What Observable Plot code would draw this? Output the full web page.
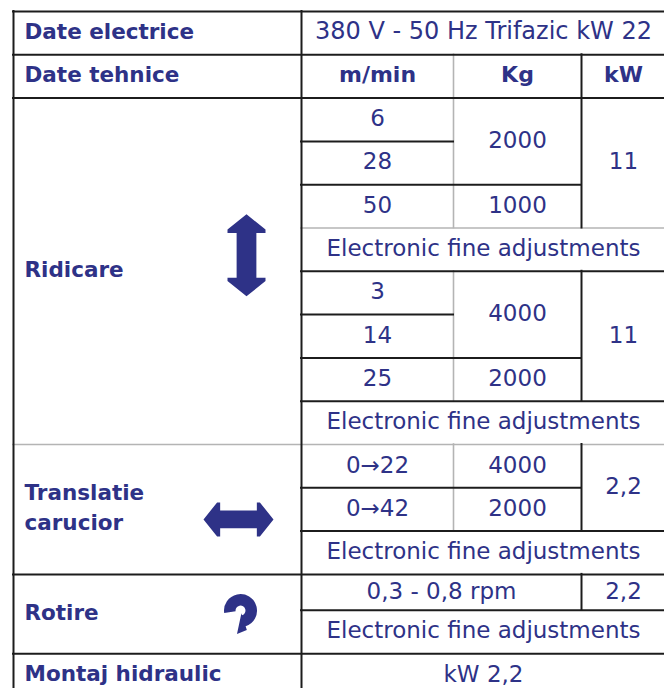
<!DOCTYPE html>
<html>
<head>
<meta charset="utf-8">
<script src="https://cdn.jsdelivr.net/npm/d3@7"></script>
<script src="https://cdn.jsdelivr.net/npm/@observablehq/plot@0.6"></script>
<style>
  html, body { margin: 0; padding: 0; background: #fff; }
  #chart svg { display: block; }
</style>
</head>
<body>
<div id="chart"></div>
<script>
// ---------- DATA ----------
const sectionLabels = ["Date electrice", "Date tehnice", "Ridicare", "Translatie\ncarucior", "Rotire", "Montaj hidraulic"];
const electricData = "380 V - 50 Hz Trifazic kW 22";
const columnHeaders = ["m/min", "Kg", "kW"];
const liftSpeeds = ["6", "28", "50", "3", "14", "25"];
const liftLoads = ["2000", "1000", "4000", "2000"];
const liftPowers = ["11", "11"];
const travelSpeeds = ["0→22", "0→42"];
const travelLoads = ["4000", "2000"];
const travelPower = "2,2";
const rotationSpeed = "0,3 - 0,8 rpm";
const rotationPower = "2,2";
const adjustmentNote = "Electronic fine adjustments";
const hydraulicPower = "kW 2,2";

// ---------- LAYOUT ----------
const ink = "#2e3287";
const colWidths = [288, 152, 128, 84];
const rowUnits = [1, 1, 1, 1, 1, 1, 1, 1, 1, 1, 1, 1, 1, 0.83, 1, 1];
const rowPx = 43.3;
const colEdges = [0, ...d3.cumsum(colWidths)];
const rowEdges = [0, ...d3.cumsum(rowUnits)];
const cell = (text, r1, r2, c1, c2) => ({text, r1, r2, c1, c2});

// left column labels
const leftCells = [
  cell(sectionLabels[0], 0, 1, 0, 1),
  cell(sectionLabels[1], 1, 2, 0, 1),
  cell(sectionLabels[2], 2, 10, 0, 1),
  cell(sectionLabels[3], 10, 13, 0, 1),
  cell(sectionLabels[4], 13, 15, 0, 1),
  cell(sectionLabels[5], 15, 16, 0, 1)
];
const headerCells = columnHeaders.map((h, i) => cell(h, 1, 2, 1 + i, 2 + i));
const speedRows = [2, 3, 4, 6, 7, 8];
const titleCells = [cell(electricData, 0, 1, 1, 4)];
const valueCells = [
  ...liftSpeeds.map((s, i) => cell(s, speedRows[i], speedRows[i] + 1, 1, 2)),
  cell(liftLoads[0], 2, 4, 2, 3),
  cell(liftLoads[1], 4, 5, 2, 3),
  cell(liftLoads[2], 6, 8, 2, 3),
  cell(liftLoads[3], 8, 9, 2, 3),
  cell(liftPowers[0], 2, 5, 3, 4),
  cell(liftPowers[1], 6, 9, 3, 4),
  ...[5, 9, 12, 14].map(r => cell(adjustmentNote, r, r + 1, 1, 4)),
  ...travelSpeeds.map((s, i) => cell(s, 10 + i, 11 + i, 1, 2)),
  ...travelLoads.map((s, i) => cell(s, 10 + i, 11 + i, 2, 3)),
  cell(travelPower, 10, 12, 3, 4),
  cell(rotationSpeed, 13, 14, 1, 3),
  cell(rotationPower, 13, 14, 3, 4),
  cell(hydraulicPower, 15, 16, 1, 4)
];

// grid segments: horizontal {e, c1, c2, s}, vertical {c, r1, r2, s}; s: "d" dark, "l" light
const hLines = [
  {e: 0, c1: 0, c2: 4, s: "d"}, {e: 1, c1: 0, c2: 4, s: "d"}, {e: 2, c1: 0, c2: 4, s: "d"},
  {e: 3, c1: 1, c2: 2, s: "d"}, {e: 4, c1: 1, c2: 3, s: "d"}, {e: 5, c1: 1, c2: 4, s: "l"},
  {e: 6, c1: 1, c2: 4, s: "d"}, {e: 7, c1: 1, c2: 2, s: "d"}, {e: 8, c1: 1, c2: 3, s: "d"},
  {e: 9, c1: 1, c2: 4, s: "d"}, {e: 10, c1: 0, c2: 4, s: "l"}, {e: 11, c1: 1, c2: 3, s: "d"},
  {e: 12, c1: 1, c2: 4, s: "d"}, {e: 13, c1: 0, c2: 4, s: "d"}, {e: 14, c1: 1, c2: 4, s: "d"},
  {e: 15, c1: 0, c2: 4, s: "d"}
];
const vLines = [
  {c: 0, r1: 0, r2: 16, s: "d"}, {c: 1, r1: 0, r2: 16, s: "d"},
  {c: 2, r1: 1, r2: 5, s: "l"}, {c: 2, r1: 6, r2: 9, s: "l"}, {c: 2, r1: 10, r2: 12, s: "l"},
  {c: 3, r1: 1, r2: 5, s: "d"}, {c: 3, r1: 6, r2: 9, s: "d"}, {c: 3, r1: 10, r2: 12, s: "d"},
  {c: 3, r1: 13, r2: 14, s: "d"}
];
const lineStyle = {d: {stroke: "#1c1c1c", strokeWidth: 2}, l: {stroke: "#b4b4b4", strokeWidth: 1.6}};

// icon shapes
const doubleArrow = {
  draw(ctx, l, r) {
    const hw = r, sw = r * 0.52, hs = r * 0.8, hf = r * 0.18;
    ctx.moveTo(0, 0);
    ctx.lineTo(hw, -hs); ctx.lineTo(hw, -hs - hf); ctx.lineTo(sw, -hs - hf);
    ctx.lineTo(sw, -l + hs + hf); ctx.lineTo(hw, -l + hs + hf); ctx.lineTo(hw, -l + hs);
    ctx.lineTo(0, -l);
    ctx.lineTo(-hw, -l + hs); ctx.lineTo(-hw, -l + hs + hf); ctx.lineTo(-sw, -l + hs + hf);
    ctx.lineTo(-sw, -hs - hf); ctx.lineTo(-hw, -hs - hf); ctx.lineTo(-hw, -hs);
    ctx.closePath();
  }
};
const rotateArrow = {
  draw(ctx, l, r) {
    const cx = 0.5, cy = -l + r, Ro = r, Ri = r * 0.3;
    const a0 = Math.PI * 0.95, a1 = Math.PI * 2.4;
    const u = [Math.cos(a1), Math.sin(a1)];
    ctx.moveTo(cx + Ro * Math.cos(a0), cy + Ro * Math.sin(a0));
    ctx.arc(cx, cy, Ro, a0, a1, false);
    ctx.lineTo(cx + (Ro + 4) * u[0], cy + (Ro + 4) * u[1]);
    ctx.lineTo(-3, 0);
    ctx.lineTo(cx + (Ri - 2) * u[0], cy + (Ri - 2) * u[1]);
    ctx.lineTo(cx + Ri * u[0], cy + Ri * u[1]);
    ctx.arc(cx, cy, Ri, a1, a0, true);
    ctx.closePath();
  }
};
const blockMid = (r1, r2) => (rowEdges[r1] + rowEdges[r2]) / 2;

const mid = (a, b) => (a + b) / 2;
const cx = d => mid(colEdges[d.c1], colEdges[d.c2]);
const cy = d => mid(rowEdges[d.r1], rowEdges[d.r2]) * rowPx;

const chart = Plot.plot({
  width: 664,
  height: 688,
  margin: 0,
  style: {background: "#fff"},
  x: {type: "linear", domain: [0, colEdges[4]], range: [13, 13 + colEdges[4]], axis: null},
  y: {type: "linear", domain: [0, 677], range: [11, 688], axis: null},
  marks: [
    ...["l", "d"].flatMap(s => [
      Plot.ruleY(hLines.filter(d => d.s === s), {
        y: d => rowEdges[d.e] * rowPx, x1: d => colEdges[d.c1], x2: d => colEdges[d.c2],
        ...lineStyle[s], strokeLinecap: "square"
      }),
      Plot.ruleX(vLines.filter(d => d.s === s), {
        x: d => colEdges[d.c], y1: d => rowEdges[d.r1] * rowPx, y2: d => rowEdges[d.r2] * rowPx,
        ...lineStyle[s], strokeLinecap: "square"
      })
    ]),
    Plot.text(leftCells, {
      x: d => colEdges[d.c1], y: cy, text: "text", textAnchor: "start", dx: 11, dy: -4,
      fontSize: 21.5, fontWeight: "bold", fill: ink, fontFamily: "DejaVu Sans", lineHeight: 1.4
    }),
    Plot.text(headerCells, {
      x: cx, y: cy, text: "text", dy: -1, fontSize: 22, fontWeight: "bold", fill: ink, fontFamily: "DejaVu Sans"
    }),
    Plot.text(titleCells, {
      x: cx, y: cy, text: "text", dy: -2, fontSize: 24, fill: ink, fontFamily: "DejaVu Sans"
    }),
    Plot.text(valueCells, {
      x: cx, y: cy, text: "text", dy: -1, fontSize: 23, fill: ink, fontFamily: "DejaVu Sans"
    }),
    Plot.vector([{x: 233, y: blockMid(2, 10) * rowPx}], {
      x: "x", y: "y", dy: -16, length: 82, r: 19, shape: doubleArrow, fill: ink, stroke: "none"
    }),
    Plot.vector([{x: 225, y: blockMid(10, 13) * rowPx}], {
      x: "x", y: "y", dy: 10, length: 70, r: 17, rotate: 90, shape: doubleArrow, fill: ink, stroke: "none"
    }),
    Plot.vector([{x: 226.5, y: blockMid(13, 15) * rowPx}], {
      x: "x", y: "y", length: 40, r: 16.5, shape: rotateArrow, fill: ink, stroke: "none"
    })
  ]
});
document.getElementById("chart").append(chart);
</script>
</body>
</html>
